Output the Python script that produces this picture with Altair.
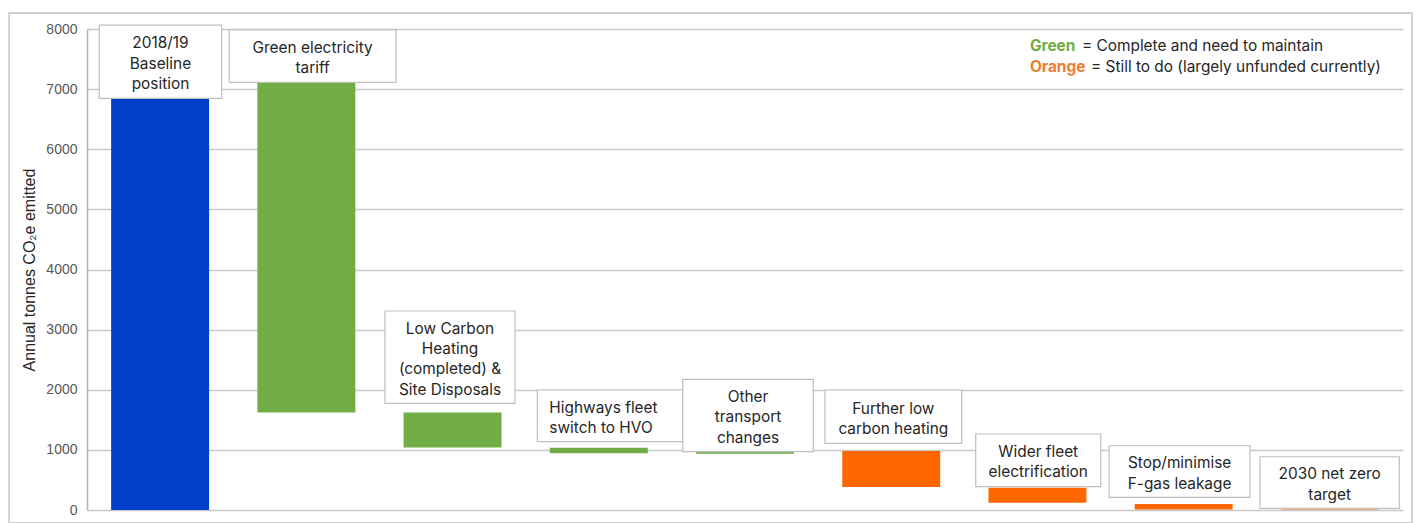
import altair as alt
import pandas as pd

# Waterfall of annual emissions (tonnes CO2e), from the 2018/19 baseline to the 2030 target
categories = [
    "2018/19 Baseline position",
    "Green electricity tariff",
    "Low Carbon Heating (completed) & Site Disposals",
    "Highways fleet switch to HVO",
    "Other transport changes",
    "Further low carbon heating",
    "Wider fleet electrification",
    "Stop/minimise F-gas leakage",
    "2030 net zero target",
]
bar_top = [7110, 7110, 1620, 1035, 975, 981, 370, 100, 15]
bar_bottom = [0, 1620, 1040, 945, 935, 383, 120, 10, 0]
status = ["Baseline", "Complete", "Complete", "Complete", "Complete",
          "To do", "To do", "To do", "Target"]

# Call-out labels for each step
label_text = [
    "2018/19\nBaseline\nposition",
    "Green electricity\ntariff",
    "Low Carbon\nHeating\n(completed) &\nSite Disposals",
    "Highways fleet\nswitch to HVO",
    "Other\ntransport\nchanges",
    "Further low\ncarbon heating",
    "Wider fleet\nelectrification",
    "Stop/minimise\nF-gas leakage",
    "2030 net zero\ntarget",
]
label_align = ["center", "center", "center", "left", "center",
               "center", "center", "center", "center"]
# Call-out box extents: x in category steps, y in tonnes
box_left = [-0.416, 0.473, 1.538, 2.580, 3.574, 4.547, 5.578, 6.490, 7.522]
box_right = [0.421, 1.613, 2.427, 3.576, 4.467, 5.482, 6.433, 7.454, 8.475]
box_top = [8066, 7983, 3310, 1996, 2174, 1996, 1264, 1069, 886]
box_bottom = [6847, 7113, 1775, 1136, 970, 1109, 388, 211, 28]

# Colour key text
key_words = ["Green", "Orange"]
key_desc = ["= Complete and need to maintain",
            "= Still to do (largely unfunded currently)"]

status_domain = ["Baseline", "Complete", "To do", "Target"]
status_colors = ["#0040C8", "#70AD47", "#FF6600", "#F4B183"]
key_colors = ["#70AD47", "#ED7D31"]

W, H = 1316, 481
Y_MAX = 8000
LINE_H = 20.3
FONT = "Inter"
FONT_SIZE = 15.4

df = pd.DataFrame({
    "idx": list(range(len(categories))),
    "category": categories,
    "top": bar_top,
    "bottom": bar_bottom,
    "status": status,
    "label": label_text,
    "align": label_align,
    "bl": box_left,
    "br": box_right,
    "bt": box_top,
    "bb": box_bottom,
})
df["nlines"] = df["label"].str.count("\n") + 1

xscale = alt.Scale(domain=[-0.5, len(categories) - 0.5], nice=False, zero=False)
yscale = alt.Scale(domain=[0, Y_MAX], nice=False)

base = alt.Chart(df)

bars = base.transform_calculate(
    x0="datum.idx - 0.335", x1="datum.idx + 0.335"
).mark_bar(cornerRadius=0).encode(
    x=alt.X("x0:Q", scale=xscale, axis=None),
    x2="x1:Q",
    y=alt.Y("bottom:Q", scale=yscale,
            axis=alt.Axis(title="Annual tonnes CO₂e emitted",
                          values=list(range(0, 8001, 1000)),
                          format="d")),
    y2="top:Q",
    color=alt.Color("status:N",
                    scale=alt.Scale(domain=status_domain, range=status_colors),
                    legend=None),
)

boxes = base.mark_rect(fill="white", stroke="#BFBFBF", strokeWidth=1.2).encode(
    x=alt.X("bl:Q", scale=xscale, axis=None),
    x2="br:Q",
    y=alt.Y("bb:Q", scale=yscale),
    y2="bt:Q",
)

# First-line position so that the whole text block sits centred in its box
first_line = (f"(datum.bt + datum.bb) / 2 + (datum.nlines - 1) * {LINE_H / 2} * {Y_MAX / H}")

text_center = base.transform_filter("datum.align == 'center'").transform_calculate(
    cx="(datum.bl + datum.br) / 2", cy=first_line
).mark_text(
    align="center", baseline="middle", lineBreak="\n", lineHeight=LINE_H, dy=2,
    font=FONT, fontSize=FONT_SIZE, color="#262626"
).encode(
    x=alt.X("cx:Q", scale=xscale, axis=None),
    y=alt.Y("cy:Q", scale=yscale),
    text="label:N",
)

text_left = base.transform_filter("datum.align == 'left'").transform_calculate(
    cy=first_line
).mark_text(
    align="left", baseline="middle", lineBreak="\n", lineHeight=LINE_H, dx=12, dy=2,
    font=FONT, fontSize=FONT_SIZE, color="#262626"
).encode(
    x=alt.X("bl:Q", scale=xscale, axis=None),
    y=alt.Y("cy:Q", scale=yscale),
    text="label:N",
)

# Colour key in the top-right corner
key_layers = []
key_rows_y = [17, 38]
desc_x = [995, 1004]
for word, desc, col, yy, dxp in zip(key_words, key_desc, key_colors, key_rows_y, desc_x):
    key_layers.append(
        alt.Chart(pd.DataFrame({"t": [word]})).mark_text(
            align="left", baseline="middle", font=FONT, fontSize=FONT_SIZE,
            fontWeight="bold", color=col
        ).encode(x=alt.value(943), y=alt.value(yy), text="t:N")
    )
    key_layers.append(
        alt.Chart(pd.DataFrame({"t": [desc]})).mark_text(
            align="left", baseline="middle", font=FONT, fontSize=FONT_SIZE,
            color="#262626"
        ).encode(x=alt.value(dxp), y=alt.value(yy), text="t:N")
    )

# Thin frame around the whole figure
frame = alt.Chart(pd.DataFrame({"f": [0]})).mark_rect(
    fill="transparent", stroke="#BDBDBD", strokeWidth=1.3
).encode(
    x=alt.value(-78), x2=alt.value(1325),
    y=alt.value(-16), y2=alt.value(494),
)

chart = alt.layer(frame, bars, boxes, text_center, text_left, *key_layers).properties(
    width=W, height=H,
    padding={"left": 87, "top": 29, "right": 1419 - 87 - W, "bottom": 523 - 29 - H},
    autosize=alt.AutoSizeParams(type="none"),
    background="white",
).configure_view(
    strokeWidth=0
).configure_axis(
    grid=True, gridColor="#C8C8C8", gridWidth=1.6,
    domain=True, domainColor="#B4B4B4", domainWidth=1.6,
    ticks=False, labelPadding=10,
    labelFont="Liberation Sans", labelFontSize=14, labelColor="#595959",
    titleFont="Liberation Sans", titleFontSize=16, titleFontWeight="normal",
    titleColor="#262626", titlePadding=8,
)

chart.save("out.html", embed_options={"renderer": "svg", "actions": False})
